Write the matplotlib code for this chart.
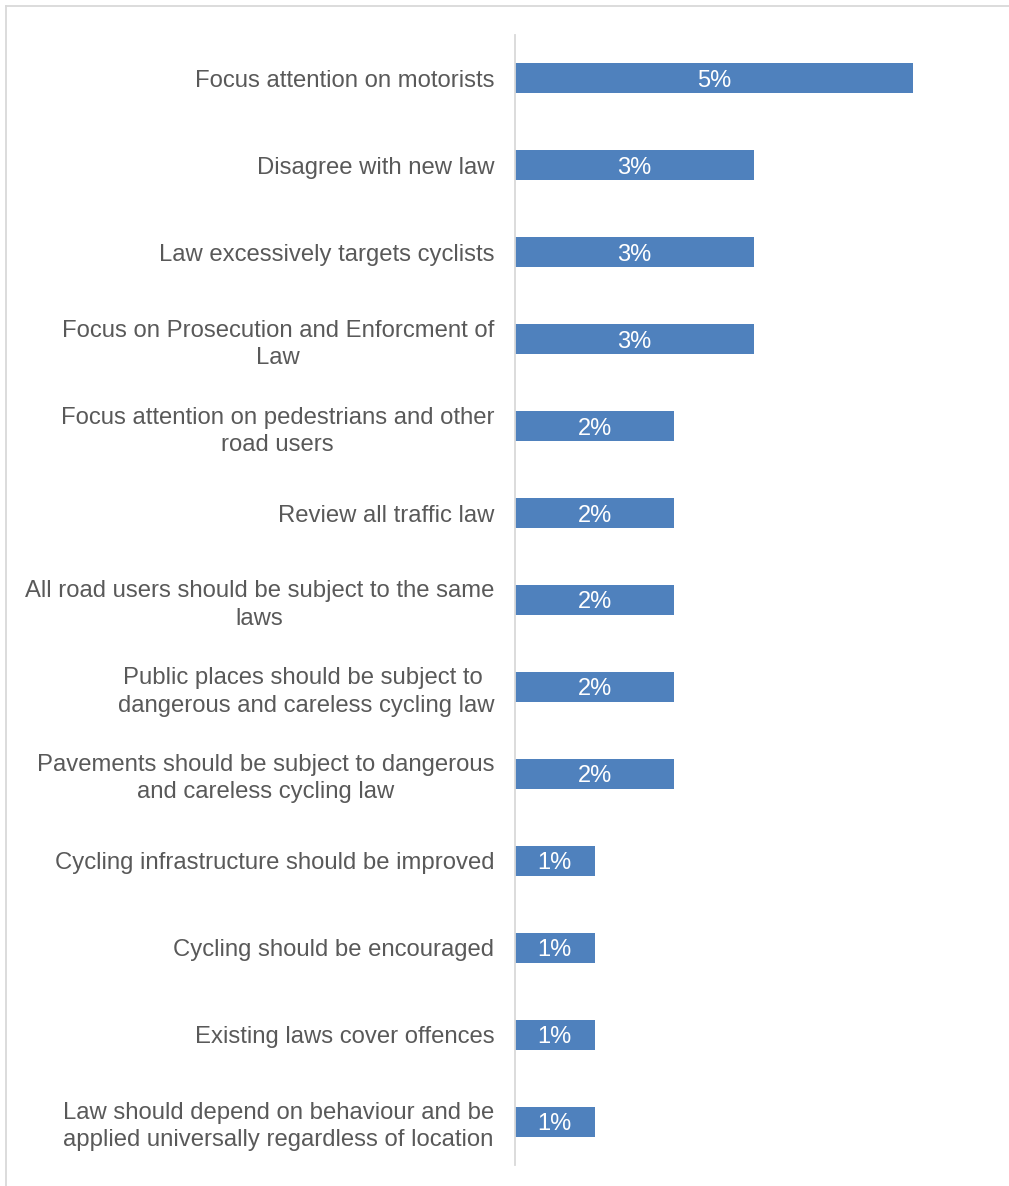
import matplotlib
matplotlib.use("Agg")
import matplotlib.pyplot as plt
from matplotlib.lines import Line2D

categories = [
    "Focus attention on motorists",
    "Disagree with new law",
    "Law excessively targets cyclists",
    "Focus on Prosecution and Enforcment of\nLaw",
    "Focus attention on pedestrians and other\nroad users",
    "Review all traffic law",
    "All road users should be subject to the same\nlaws",
    "Public places should be subject to \ndangerous and careless cycling law",
    "Pavements should be subject to dangerous\nand careless cycling law",
    "Cycling infrastructure should be improved",
    "Cycling should be encouraged",
    "Existing laws cover offences",
    "Law should depend on behaviour and be\napplied universally regardless of location",
]
values = [5, 3, 3, 3, 2, 2, 2, 2, 2, 1, 1, 1, 1]

plt.rcParams["font.family"] = ["Liberation Sans", "DejaVu Sans"]

W, H = 1009, 1186
fig = plt.figure(figsize=(W / 100, H / 100), dpi=100)
ax = fig.add_axes([515 / W, 1 - 1165 / H, (993 - 515) / W, (1165 - 35) / H])

bar_color = "#4F81BD"
text_color = "#595959"
n = len(categories)
ypos = list(range(n))

ax.barh(ypos, values, height=0.345, color=bar_color, edgecolor="none")
ax.set_xlim(0, 6)
ax.set_ylim(n - 0.5, -0.5)

for y, v in zip(ypos, values):
    ax.text(v / 2, y, f"{v}%", ha="center", va="center_baseline",
            color="white", fontsize=17)

ax.set_yticks(ypos)
ax.set_yticklabels(categories, fontsize=17.2, color=text_color,
                   multialignment="center", linespacing=1.3)
ax.tick_params(axis="y", length=0, pad=15)
ax.set_xticks([])

for s in ["top", "right", "bottom"]:
    ax.spines[s].set_visible(False)
ax.spines["left"].set_color("#D9D9D9")
ax.spines["left"].set_linewidth(1.3)

# light chart-area frame (top and left edges visible)
fig.add_artist(Line2D([6 / W, 1.0], [1 - 6 / H, 1 - 6 / H], transform=fig.transFigure,
                      color="#D9D9D9", linewidth=1.3))
fig.add_artist(Line2D([6 / W, 6 / W], [0.0, 1 - 6 / H], transform=fig.transFigure,
                      color="#D9D9D9", linewidth=1.3))

fig.savefig("out.png", dpi=100, facecolor="white")
